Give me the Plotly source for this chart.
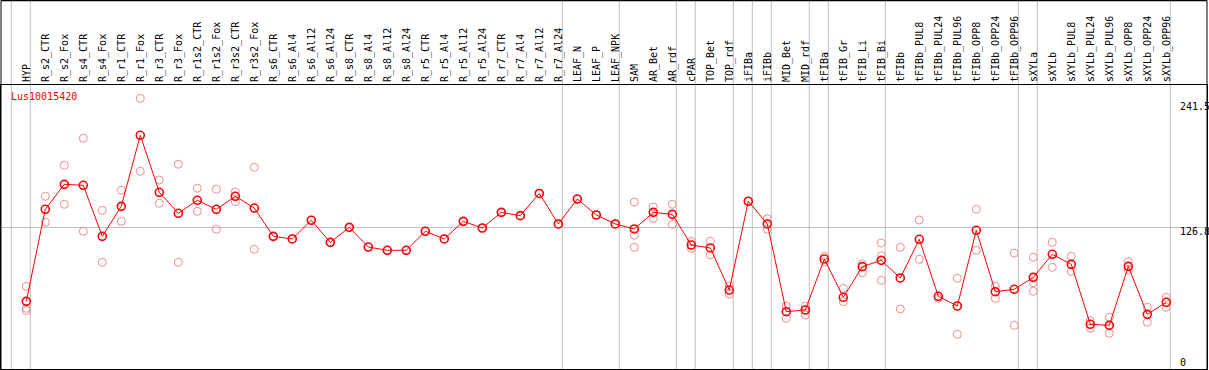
import plotly.graph_objects as go

gene = "Lus10015420"

categories = [
    "HYP", "R_s2_CTR", "R_s2_Fox", "R_s4_CTR", "R_s4_Fox", "R_r1_CTR", "R_r1_Fox",
    "R_r3_CTR", "R_r3_Fox", "R_r1s2_CTR", "R_r1s2_Fox", "R_r3s2_CTR", "R_r3s2_Fox",
    "R_s6_CTR", "R_s6_Al4", "R_s6_Al12", "R_s6_Al24", "R_s8_CTR", "R_s8_Al4",
    "R_s8_Al12", "R_s8_Al24", "R_r5_CTR", "R_r5_Al4", "R_r5_Al12", "R_r5_Al24",
    "R_r7_CTR", "R_r7_Al4", "R_r7_Al12", "R_r7_Al24", "LEAF_N", "LEAF_P", "LEAF_NPK",
    "SAM", "AR_Bet", "AR_rdf", "cPAR", "TOP_Bet", "TOP_rdf", "iFIBa", "iFIBb",
    "MID_Bet", "MID_rdf", "tFIBa", "tFIB_Gr", "tFIB_Li", "tFIB_Bi", "tFIBb",
    "tFIBb_PUL8", "tFIBb_PUL24", "tFIBb_PUL96", "tFIBb_OPP8", "tFIBb_OPP24", "tFIBb_OPP96",
    "sXYLa", "sXYLb", "sXYLb_PUL8", "sXYLb_PUL24", "sXYLb_PUL96", "sXYLb_OPP8",
    "sXYLb_OPP24", "sXYLb_OPP96",
]

means = [
    57.4, 144.5, 168.1, 167.2, 118.9, 147.3, 214.5,
    160.6, 140.7, 153.0, 144.5, 156.8, 145.7,
    118.9, 116.4, 134.1, 113.2, 127.4, 108.8,
    105.7, 105.7, 123.7, 116.4, 133.1, 126.8,
    141.6, 138.5, 159.5, 130.6, 154.2, 139.1, 130.6,
    125.9, 141.6, 139.7, 110.7, 107.9, 68.1, 152.1, 130.6,
    47.6, 49.2, 97.5, 61.2, 90.2, 96.2, 79.5,
    116.1, 62.2, 53.0, 124.6, 66.5, 68.8,
    80.1, 101.9, 92.4, 35.7, 34.7, 90.5,
    45.1, 56.5,
]

replicates = [
    [71.6, 50.8, 48.6], [156.8, 132.2], [186.1, 149.2], [211.7, 123.7], [143.5, 94.3],
    [162.5, 133.1], [249.5, 180.5], [172.2, 150.2], [187.1, 94.3], [164.4, 142.6],
    [163.4, 125.6], [160.9, 151.7], [184.2, 106.6],
    [118.9], [116.4], [134.1], [113.2], [127.4], [108.8],
    [105.7], [105.7], [123.7], [116.4], [133.1], [126.8],
    [141.6], [138.5], [159.5], [130.6], [154.2], [139.1], [130.6],
    [151.4, 119.9, 108.5], [146.7, 136.0], [149.2, 130.3], [114.2, 107.6],
    [114.2, 101.5], [71.9, 64.3], [152.1], [135.6, 125.6],
    [53.0, 41.3], [53.0, 44.5], [100.0, 94.9], [69.7, 57.1], [93.0, 84.5],
    [112.6, 100.6, 77.3], [108.5, 50.2],
    [134.4, 97.2], [60.3], [79.2, 26.2], [144.5, 105.7], [71.9, 60.3], [103.1, 34.7],
    [99.1, 75.1, 66.9], [113.3, 89.6], [100.0, 85.8], [39.1, 31.9], [42.3, 27.2],
    [94.9, 87.1], [51.8, 37.6], [61.2, 51.8],
]

# indices of categories that start a new group (separator drawn before them)
group_starts = [0, 1, 29, 32, 35, 36, 38, 39, 40, 42, 43, 46, 53, 54, 61]

y_ticks = [0, 126.8, 241.5]

FONT = "DejaVu Sans Mono"
RED = "#ff0000"
PINK = "rgb(240,140,140)"

xs = list(range(len(categories)))
rep_x, rep_y = [], []
for i, reps in enumerate(replicates):
    for v in reps:
        rep_x.append(i)
        rep_y.append(v)

fig = go.Figure()
fig.add_trace(go.Scatter(
    x=rep_x, y=rep_y, mode="markers",
    marker=dict(symbol="circle-open", size=8, color=PINK, line=dict(width=1, color=PINK)),
    hoverinfo="y", showlegend=False,
))
fig.add_trace(go.Scatter(
    x=xs, y=means, mode="lines+markers",
    line=dict(color=RED, width=1),
    marker=dict(symbol="circle-open", size=8, color=RED, line=dict(width=1.6, color=RED)),
    showlegend=False,
))

top_paper = 1 + 84.5 / 284.0
shapes = []
for g in group_starts:
    shapes.append(dict(type="line", xref="x", yref="paper", x0=g - 0.79, x1=g - 0.79,
                       y0=0, y1=top_paper, line=dict(color="#c0c0c0", width=1), layer="below"))
shapes.append(dict(type="line", xref="paper", yref="paper", x0=0, x1=1, y0=top_paper, y1=top_paper,
                   line=dict(color="black", width=1.5)))
shapes.append(dict(type="line", xref="paper", yref="paper", x0=0, x1=0, y0=0, y1=top_paper,
                   line=dict(color="black", width=1)))
shapes.append(dict(type="line", xref="paper", yref="paper", x0=1, x1=1, y0=0, y1=top_paper,
                   line=dict(color="black", width=1)))

annotations = [dict(x=-0.895, y=250.8, xref="x", yref="y", text=gene, showarrow=False,
                    xanchor="left", yanchor="middle", font=dict(family=FONT, size=10, color=RED))]
for v in y_ticks:
    annotations.append(dict(x=60.616, y=v, xref="x", yref="y", text=str(v), showarrow=False,
                            xanchor="left", yanchor="middle",
                            yshift=-4 if v == 126.8 else 0,
                            font=dict(family=FONT, size=10, color="black")))

fig.update_layout(
    width=1209, height=370,
    margin=dict(l=1, r=2, t=85, b=1),
    paper_bgcolor="white", plot_bgcolor="white",
    shapes=shapes, annotations=annotations,
    xaxis=dict(range=[-1.3316, 62.142], side="top", tickmode="array", tickvals=xs,
               ticktext=categories, tickangle=-90, ticks="", showgrid=False, zeroline=False,
               showline=True, linecolor="black", linewidth=1, mirror=True,
               tickfont=dict(family=FONT, size=10, color="black")),
    yaxis=dict(range=[-6.62, 262.1], tickmode="array", tickvals=[126.8], showticklabels=False,
               showgrid=True, gridcolor="#c0c0c0", gridwidth=1, zeroline=False,
               showline=True, linecolor="black", linewidth=1, mirror=True),
)

fig.write_html("out.html", config={"displayModeBar": False},
               post_script="document.body.style.margin='0px';document.body.style.padding='0px';")
